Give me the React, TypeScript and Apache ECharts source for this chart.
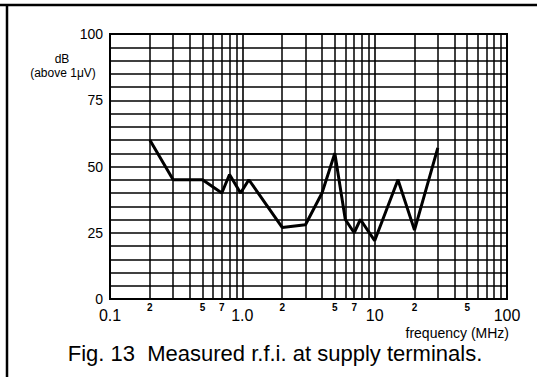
import React, { useEffect, useRef } from "react";
import * as echarts from "echarts";

// Measured r.f.i. (dB above 1 µV) vs frequency (MHz)
const freqMHz = [0.2, 0.3, 0.5, 0.7, 0.8, 0.97, 1.12, 2, 3, 4, 5, 6, 7, 7.8, 10, 15, 20, 30];
const levelDb = [60, 45, 45, 40, 47, 40, 45, 27, 28, 40, 55, 30, 25, 30, 22, 45, 26, 57];

// vertical (minor decade) grid lines
const minorGridFreqs = [
  0.2, 0.3, 0.4, 0.5, 0.6, 0.7, 0.8, 0.9,
  2, 3, 4, 5, 6, 7, 8, 9,
  20, 30, 40, 50, 60, 70, 80, 90,
];
// small labels under the axis
const minorLabelFreqs = [0.2, 0.5, 0.7, 2, 5, 7, 20, 50];
const minorLabelTexts = ["2", "5", "7", "2", "5", "7", "2", "5"];
// major x labels
const majorXValues = [0.1, 1, 10, 100];
const majorXTexts = ["0.1", "1.0", "10", "100"];
// y labels
const yLabelValues = [0, 25, 50, 75, 100];

const FONT = "'Liberation Sans', Arial, Helvetica, sans-serif";

export default function App() {
  const ref = useRef<HTMLDivElement>(null);
  useEffect(() => {
    if (!ref.current) return;
    const chart = echarts.init(ref.current, null, { renderer: "svg" });
    const seriesData = freqMHz.map((f, i) => [f, levelDb[i]]);
    const minorLabelMap = new Map<number, string>();
    minorLabelFreqs.forEach((f, i) => minorLabelMap.set(f, minorLabelTexts[i]));
    const markData = minorGridFreqs.map((f) => {
      const txt = minorLabelMap.get(f);
      return {
        xAxis: f,
        label: txt
          ? {
              show: true,
              position: "start" as const,
              formatter: txt,
              distance: 3,
              color: "#000",
              fontFamily: FONT,
              fontWeight: "bold" as const,
              fontSize: 10,
            }
          : { show: false },
      };
    });
    chart.setOption({
      animation: false,
      backgroundColor: "#fff",
      grid: {
        left: 110,
        right: 30,
        top: 34,
        bottom: 78,
        show: true,
        borderColor: "#000",
        borderWidth: 2,
        backgroundColor: "transparent",
      },
      xAxis: {
        type: "log",
        logBase: 10,
        min: 0.1,
        max: 100,
        axisLine: { show: true, lineStyle: { color: "#000", width: 2 } },
        axisTick: { show: false },
        splitLine: { show: true, lineStyle: { color: "#000", width: 1.6 } },
        minorSplitLine: { show: false },
        axisLabel: {
          color: "#000",
          fontFamily: FONT,
          fontSize: 16,
          margin: 8,
          formatter: (v: number) => {
            const idx = majorXValues.findIndex((m) => Math.abs(m - v) < 1e-6 * m);
            return idx >= 0 ? majorXTexts[idx] : "";
          },
        },
      },
      yAxis: {
        type: "value",
        min: 0,
        max: 100,
        interval: 5,
        axisLine: { show: true, lineStyle: { color: "#000", width: 2 } },
        axisTick: { show: false },
        splitLine: { show: true, lineStyle: { color: "#000", width: 1.6 } },
        axisLabel: {
          color: "#000",
          fontFamily: FONT,
          fontSize: 14,
          margin: 7,
          padding: [3, 0, 0, 0],
          formatter: (v: number) => (yLabelValues.includes(v) ? String(v) : ""),
        },
      },
      series: [
        {
          type: "line",
          data: seriesData,
          symbol: "none",
          lineStyle: { color: "#000", width: 3 },
          z: 5,
          markLine: {
            silent: true,
            symbol: ["none", "none"],
            lineStyle: { color: "#000", type: "solid", width: 1.5 },
            emphasis: { disabled: true },
            data: markData,
          },
        },
      ],
      graphic: [
        { type: "line", shape: { x1: 0, y1: 5, x2: 537, y2: 5 }, style: { stroke: "#000", lineWidth: 2.5 } },
        { type: "line", shape: { x1: 7, y1: 5, x2: 7, y2: 377 }, style: { stroke: "#000", lineWidth: 2.5 } },
        {
          type: "text",
          x: 62,
          y: 59,
          style: { text: "dB", fill: "#000", font: `12px ${FONT}`, textAlign: "center", textVerticalAlign: "middle" },
        },
        {
          type: "text",
          x: 63,
          y: 73,
          style: {
            text: "(above 1\u03bcV)",
            fill: "#000",
            font: `12px ${FONT}`,
            textAlign: "center",
            textVerticalAlign: "middle",
          },
        },
        {
          type: "text",
          x: 509,
          y: 333,
          style: {
            text: "frequency (MHz)",
            fill: "#000",
            font: `14px ${FONT}`,
            textAlign: "right",
            textVerticalAlign: "middle",
          },
        },
        {
          type: "text",
          x: 275,
          y: 353,
          style: {
            text: "Fig. 13  Measured r.f.i. at supply terminals.",
            fill: "#000",
            font: `22px ${FONT}`,
            textAlign: "center",
            textVerticalAlign: "middle",
          },
        },
      ],
    });
    return () => chart.dispose();
  }, []);
  return (
    <div
      ref={ref}
      style={{ position: "fixed", left: 0, top: 0, width: 537, height: 377, background: "#fff" }}
    />
  );
}
